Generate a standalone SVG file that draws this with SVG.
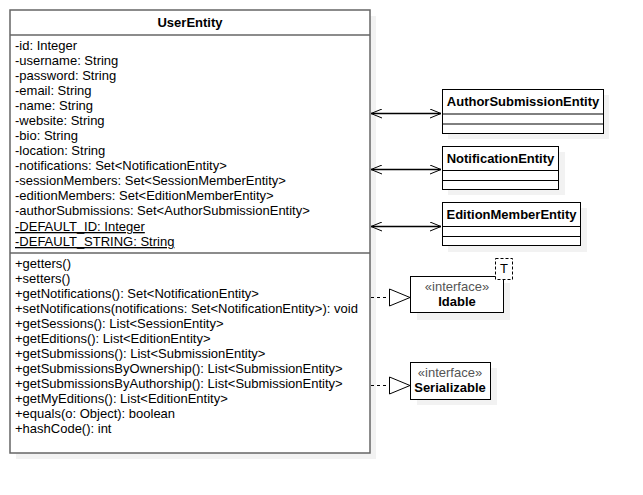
<svg xmlns="http://www.w3.org/2000/svg" width="643" height="495" viewBox="0 0 643 495">
<style>
text{font-family:"Liberation Sans",Arial,sans-serif;font-size:13px;fill:#000}
.b{font-weight:bold}
.c{text-anchor:middle}
.sh{fill:#f2f2f2;stroke:none}
.box{fill:#fff;stroke:#000;stroke-width:1}
.ue{fill:#fff;stroke:#666;stroke-width:1.5}
.ln{stroke:#000;stroke-width:1;fill:none}
.as{stroke:#000;stroke-width:1.3;fill:none}
.dash{stroke:#000;stroke-width:1;fill:none;stroke-dasharray:3 3}
.tri{fill:#fff;stroke:#000;stroke-width:1}
.st{fill:#555}
</style>
<defs>
<marker id="open" viewBox="0 0 12 10" refX="11" refY="5" markerWidth="12" markerHeight="10" orient="auto-start-reverse" markerUnits="userSpaceOnUse">
<path d="M0,0.5 L11,5 L0,9.5" fill="none" stroke="#000" stroke-width="1"/>
</marker>
</defs>
<g id="UserEntity">
<rect class="sh" x="16" y="16" width="360" height="443"/>
<rect class="ue" x="10" y="10" width="360" height="443"/>
<line x1="10" y1="35" x2="370" y2="35" stroke="#666" stroke-width="1.5"/>
<line x1="10" y1="253" x2="370" y2="253" stroke="#666" stroke-width="1.5"/>
<text class="b c" x="190" y="27">UserEntity</text>
<text x="15" y="50">-id: Integer</text>
<text x="15" y="65">-username: String</text>
<text x="15" y="80">-password: String</text>
<text x="15" y="95">-email: String</text>
<text x="15" y="110">-name: String</text>
<text x="15" y="125">-website: String</text>
<text x="15" y="140">-bio: String</text>
<text x="15" y="155">-location: String</text>
<text x="15" y="170">-notifications: Set&lt;NotificationEntity&gt;</text>
<text x="15" y="185">-sessionMembers: Set&lt;SessionMemberEntity&gt;</text>
<text x="15" y="200">-editionMembers: Set&lt;EditionMemberEntity&gt;</text>
<text x="15" y="215">-authorSubmissions: Set&lt;AuthorSubmissionEntity&gt;</text>
<text x="15" y="231" text-decoration="underline">-DEFAULT_ID: Integer</text>
<text x="15" y="246" text-decoration="underline">-DEFAULT_STRING: String</text>
<text x="15" y="268">+getters()</text>
<text x="15" y="283">+setters()</text>
<text x="15" y="298">+getNotifications(): Set&lt;NotificationEntity&gt;</text>
<text x="15" y="313">+setNotifications(notifications: Set&lt;NotificationEntity&gt;): void</text>
<text x="15" y="328">+getSessions(): List&lt;SessionEntity&gt;</text>
<text x="15" y="343">+getEditions(): List&lt;EditionEntity&gt;</text>
<text x="15" y="358">+getSubmissions(): List&lt;SubmissionEntity&gt;</text>
<text x="15" y="373">+getSubmissionsByOwnership(): List&lt;SubmissionEntity&gt;</text>
<text x="15" y="388">+getSubmissionsByAuthorship(): List&lt;SubmissionEntity&gt;</text>
<text x="15" y="403">+getMyEditions(): List&lt;EditionEntity&gt;</text>
<text x="15" y="418">+equals(o: Object): boolean</text>
<text x="15" y="433">+hashCode(): int</text>
</g>
<g id="AuthorSubmissionEntity">
<rect class="sh" x="448" y="95" width="161" height="44"/>
<rect class="box" x="442.5" y="89.5" width="161" height="44"/>
<line class="ln" x1="442.5" y1="114" x2="603.5" y2="114"/>
<line class="ln" x1="442.5" y1="124" x2="603.5" y2="124"/>
<text class="b c" x="523" y="106">AuthorSubmissionEntity</text>
</g>
<g id="NotificationEntity">
<rect class="sh" x="448" y="152" width="117" height="43"/>
<rect class="box" x="442.5" y="146.5" width="116" height="43"/>
<line class="ln" x1="442.5" y1="170.5" x2="558.5" y2="170.5"/>
<line class="ln" x1="442.5" y1="180.5" x2="558.5" y2="180.5"/>
<text class="b c" x="500.5" y="163">NotificationEntity</text>
</g>
<g id="EditionMemberEntity">
<rect class="sh" x="448" y="208" width="139" height="44"/>
<rect class="box" x="442.5" y="202.5" width="138" height="43"/>
<line class="ln" x1="442.5" y1="226.5" x2="580.5" y2="226.5"/>
<line class="ln" x1="442.5" y1="236.5" x2="580.5" y2="236.5"/>
<text class="b c" x="511.5" y="219">EditionMemberEntity</text>
</g>
<g id="Idable">
<rect class="sh" x="417" y="283" width="93" height="37"/>
<rect class="box" x="410.5" y="276.5" width="93" height="36"/>
<text class="c st" x="457" y="291">«interface»</text>
<text class="b c" x="457" y="306">Idable</text>
<rect x="495.5" y="258.5" width="17" height="21" fill="#fff" stroke="#000" stroke-width="1" stroke-dasharray="3 2"/>
<text class="c" x="504" y="273">T</text>
</g>
<g id="Serializable">
<rect class="sh" x="417" y="368" width="80" height="37"/>
<rect class="box" x="410.5" y="362.5" width="80" height="37"/>
<text class="c st" x="450" y="377">«interface»</text>
<text class="b c" x="450" y="392">Serializable</text>
</g>
<g id="connectors">
<line class="as" x1="371" y1="113.5" x2="441" y2="113.5" marker-start="url(#open)" marker-end="url(#open)"/>
<line class="as" x1="371" y1="169.5" x2="441" y2="169.5" marker-start="url(#open)" marker-end="url(#open)"/>
<line class="as" x1="371" y1="226.5" x2="441" y2="226.5" marker-start="url(#open)" marker-end="url(#open)"/>
<line class="dash" x1="371" y1="297.5" x2="389" y2="297.5"/>
<polygon class="tri" points="389.5,289 410,297.5 389.5,306"/>
<line class="dash" x1="371" y1="385.5" x2="389" y2="385.5"/>
<polygon class="tri" points="389.5,377 410,385.5 389.5,394"/>
</g>
</svg>
